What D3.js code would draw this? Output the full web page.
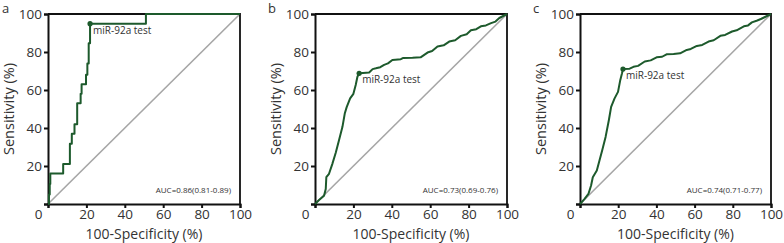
<!DOCTYPE html>
<html lang="en">
<head>
    <meta charset="UTF-8">
    <script src="https://d3js.org/d3.v7.min.js"></script>
    <style>
        body { margin: 0; background: #fff; }
        text { font-family: "Open Sans", "Noto Sans", sans-serif; fill: #333; }
    </style>
</head>
<body>
    <svg id="chart" width="784" height="243"></svg>
    <script>
        // ROC points [100-specificity, sensitivity]
        const rocA = [[0,0],[0.5,0],[0.5,5],[0.9,5],[0.9,10.5],[1.2,10.5],[1.2,16],[7.9,16],[7.9,21],
            [11.4,21],[11.4,31.7],[12.4,31.7],[12.4,37],[13.8,37],[13.8,42],[15.2,42],[15.2,53],
            [17,53],[17,58],[17.5,58],[17.5,63],[19.8,63],[19.8,68],[20.5,68],[20.5,74],[21.2,74],
            [21.2,84.6],[21.9,84.6],[21.9,94.9],[51,94.9],[51,100],[100,100]];
        const rocB = [[0,0],[2.1,2.1],[4.7,4.4],[5.6,7.9],[5.9,14.1],[7.3,15.9],[9,21],[10.8,27],
            [12.5,33.5],[14.3,40.6],[15.5,47.6],[16.5,51],[18.3,55.6],[20,58],[21.2,62.6],[22.1,67],
            [23,68.8],[25,69],[28.2,69.2],[30,71],[31.7,71.4],[34,72],[36,73.2],[38,74],[40.3,75.8],
            [44.7,76.2],[46,76.9],[50.8,77],[55,77.2],[58.6,79.7],[61,80.5],[63.8,82.9],[67,83.5],
            [69.9,85.5],[73,86.2],[76,88.5],[79,89.3],[81.2,91.4],[84,92],[86.4,93.5],[89,94],
            [91.7,95.2],[94,96],[96,97.9],[100,100]];
        const rocC = [[0,0],[2.3,2.6],[4.4,5.3],[5.8,9.7],[6.7,14.1],[8.8,17.6],[10.2,22.9],[11.6,28.2],
            [13.4,35.3],[15.1,44.1],[16.3,51.1],[18.1,55.6],[19.9,59],[21.1,65.3],[22,68.8],
            [22.5,71],[26,71.2],[28,72.2],[30.4,72.7],[33.9,75],[37,75.6],[40.1,77.2],[43,77.5],
            [45.3,78.8],[49,79],[52.4,79.3],[55.9,81.1],[58,81.6],[61.2,83.2],[64,83.7],[67.3,85.5],
            [70,86.2],[73.5,88.5],[76,89],[79.6,90.8],[82,91.4],[85.8,93.5],[88,94],[90,95.6],
            [92.8,96.6],[95,97.5],[100,100]];
        const cutoffs = [[21.9,94.9],[23,68.8],[22.5,71]];
        const aucLabels = ["AUC=0.86(0.81-0.89)", "AUC=0.73(0.69-0.76)", "AUC=0.74(0.71-0.77)"];
        const panelLetters = ["a", "b", "c"];
        const xTicks = [0, 20, 40, 60, 80, 100];
        const yTicks = [0, 20, 40, 60, 80, 100];

        const svg = d3.select("#chart");
        const panels = [
            { left: 48, right: 240, letterX: 2, data: rocA },
            { left: 315, right: 507, letterX: 268, data: rocB },
            { left: 580, right: 771, letterX: 533, data: rocC }
        ];
        const plotTop = 14, plotBottom = 204;
        const green = "#1d5a2c";

        panels.forEach((p, i) => {
            const x = d3.scaleLinear().domain([0, 100]).range([p.left, p.right]);
            const y = d3.scaleLinear().domain([0, 100]).range([plotBottom, plotTop]);
            const g = svg.append("g");

            // diagonal reference
            g.append("line")
                .attr("x1", x(0)).attr("y1", y(0))
                .attr("x2", x(100)).attr("y2", y(100))
                .attr("stroke", "#a6a6a6").attr("stroke-width", 1.6);

            // box top/right
            g.append("path")
                .attr("d", `M${x(0)},${y(100)}H${x(100)}V${y(0)}`)
                .attr("fill", "none").attr("stroke", "#111").attr("stroke-width", 1.8);

            const xAxis = g.append("g")
                .attr("transform", `translate(0,${plotBottom})`)
                .call(d3.axisBottom(x).tickValues(xTicks).tickSize(4).tickPadding(1));
            const yAxis = g.append("g")
                .attr("transform", `translate(${p.left},0)`)
                .call(d3.axisLeft(y).tickValues(yTicks).tickSize(4).tickPadding(2)
                    .tickFormat(d => d === 0 ? "" : d));
            [xAxis, yAxis].forEach(a => {
                a.select(".domain").attr("stroke", "#111").attr("stroke-width", 2);
                a.selectAll(".tick line").attr("stroke", "#111").attr("stroke-width", 2);
                a.selectAll("text").style("font-size", "13.5px").attr("fill", "#333");
            });
            xAxis.selectAll(".tick").filter(d => d === 0).select("text").attr("x", -10);

            // ROC curve
            g.append("path")
                .datum(p.data)
                .attr("d", d3.line().x(d => x(d[0])).y(d => y(d[1])))
                .attr("fill", "none").attr("stroke", green).attr("stroke-width", 2)
                .attr("stroke-linejoin", "round");

            const c = cutoffs[i];
            g.append("circle")
                .attr("cx", x(c[0])).attr("cy", y(c[1])).attr("r", 2.6).attr("fill", green);
            g.append("text")
                .attr("x", x(c[0]) + 3).attr("y", y(c[1]) + 10)
                .style("font-size", "10px")
                .text("miR-92a test");

            g.append("text")
                .attr("x", x(100) - 9).attr("y", 193)
                .attr("text-anchor", "end")
                .style("font-size", "8px")
                .text(aucLabels[i]);

            g.append("text")
                .attr("x", (p.left + p.right) / 2).attr("y", 238.5)
                .attr("text-anchor", "middle")
                .style("font-size", "14px")
                .text("100-Specificity (%)");

            g.append("text")
                .attr("transform", `translate(${p.left - 34},${(plotTop + plotBottom) / 2}) rotate(-90)`)
                .attr("text-anchor", "middle")
                .style("font-size", "14.5px")
                .text("Sensitivity (%)");

            g.append("text")
                .attr("x", p.letterX).attr("y", 13)
                .style("font-size", "13px")
                .text(panelLetters[i]);
        });
    </script>
</body>
</html>
